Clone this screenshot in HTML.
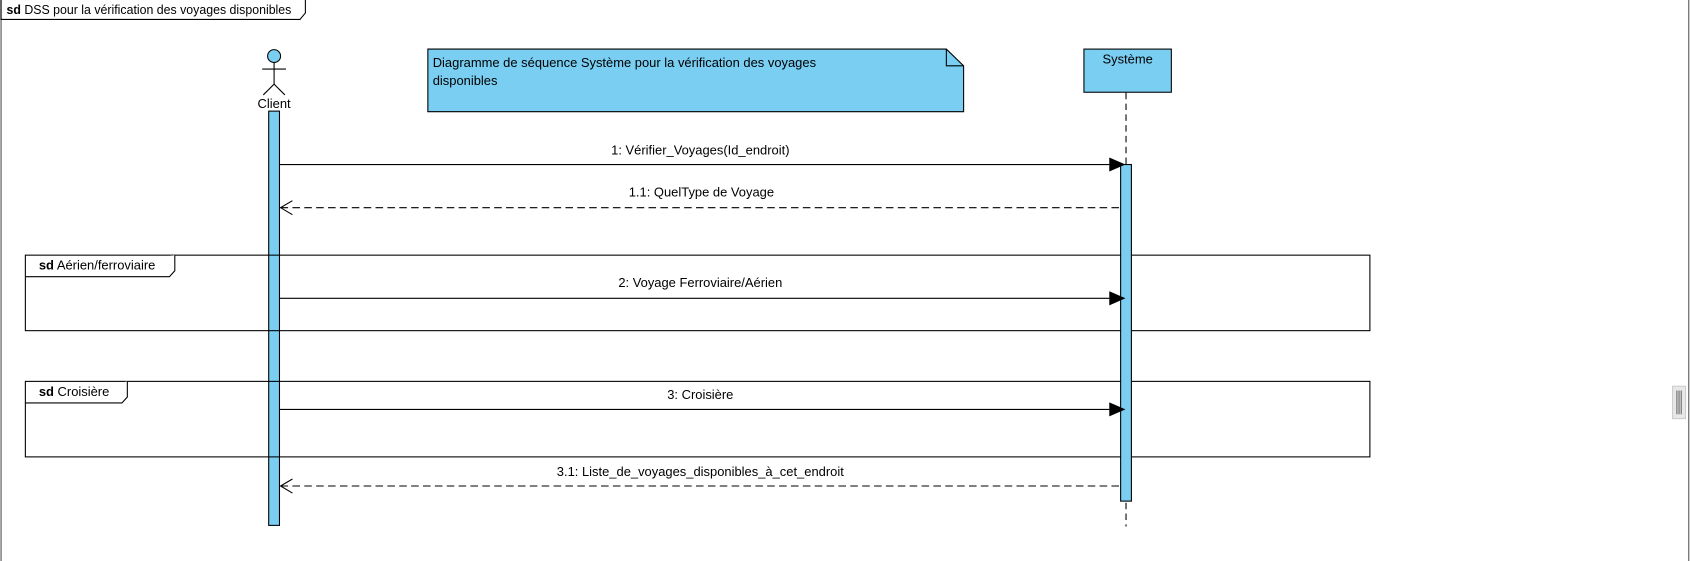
<!DOCTYPE html>
<html><head><meta charset="utf-8"><style>
html,body{margin:0;padding:0;background:#fff;overflow:hidden}
svg{display:block}
text{font-family:"Liberation Sans",sans-serif;font-size:12px;fill:#000}
</style></head><body>
<svg width="1692" height="561" viewBox="0 0 1568 520" preserveAspectRatio="none" xmlns="http://www.w3.org/2000/svg">
<rect x="0" y="0" width="1568" height="520" fill="#fff"/>
<line x1="1" y1="0" x2="1" y2="520" stroke="#888" stroke-width="1.5"/>
<line x1="1565" y1="0" x2="1565" y2="520" stroke="#555" stroke-width="1"/>
<path d="M1,0 V18 H278 L283,12 V0" fill="#fff" stroke="#000" stroke-width="1"/>
<text x="6" y="13" font-size="11" textLength="264" lengthAdjust="spacingAndGlyphs"><tspan font-weight="bold">sd</tspan> DSS pour la vérification des voyages disponibles</text>
<rect x="1550" y="358" width="12" height="30" fill="#e8e8e8" stroke="#ccc"/>
<line x1="1554" y1="362" x2="1554" y2="384" stroke="#666"/>
<line x1="1556" y1="362" x2="1556" y2="384" stroke="#666"/>
<line x1="1558" y1="362" x2="1558" y2="384" stroke="#666"/>
<circle cx="254" cy="52" r="6" fill="#79cef2" stroke="#000"/>
<line x1="254" y1="58" x2="254" y2="78" stroke="#000"/>
<line x1="243" y1="64" x2="265" y2="64" stroke="#000"/>
<line x1="254" y1="78" x2="244" y2="88" stroke="#000"/>
<line x1="254" y1="78" x2="264" y2="88" stroke="#000"/>
<text x="254" y="100" text-anchor="middle">Client</text>
<rect x="249" y="103" width="10" height="384" fill="#79cef2" stroke="#000"/>
<path d="M396.5,45.5 H877 L893,61 V103.5 H396.5 Z" fill="#79cef2" stroke="#000"/>
<path d="M877,45.5 V61 H893" fill="none" stroke="#000"/>
<text x="401" y="62">Diagramme de séquence Système pour la vérification des voyages</text>
<text x="401" y="79">disponibles</text>
<rect x="1004.5" y="45.5" width="81" height="40" fill="#79cef2" stroke="#000"/>
<text x="1045" y="59" text-anchor="middle" font-size="11">Système</text>
<line x1="1043.5" y1="86" x2="1043.5" y2="488" stroke="#000" stroke-dasharray="6,4"/>
<rect x="23.5" y="236.5" width="1246" height="70" fill="none" stroke="#000"/>
<path d="M23.5,256.5 H157 L162,251 V236.5" fill="#fff" stroke="#000"/>
<text x="36" y="250" font-size="11"><tspan font-weight="bold">sd</tspan> Aérien/ferroviaire</text>
<rect x="23.5" y="353.5" width="1246" height="70" fill="none" stroke="#000"/>
<path d="M23.5,373.5 H113 L118,368 V353.5" fill="#fff" stroke="#000"/>
<text x="36" y="367" font-size="11"><tspan font-weight="bold">sd</tspan> Croisière</text>
<rect x="1038.5" y="152.5" width="10" height="312" fill="#79cef2" stroke="#000"/>
<line x1="259" y1="152.5" x2="1028" y2="152.5" stroke="#000"/>
<polygon points="1028,146 1043,152.5 1028,159" fill="#000"/>
<text x="649" y="143" text-anchor="middle">1: Vérifier_Voyages(Id_endroit)</text>
<line x1="260" y1="192.5" x2="1038" y2="192.5" stroke="#000" stroke-dasharray="7,4"/>
<polyline points="271,186 260,192.5 271,199" fill="none" stroke="#000"/>
<text x="650" y="182" text-anchor="middle">1.1: QuelType de Voyage</text>
<line x1="259" y1="276.5" x2="1028" y2="276.5" stroke="#000"/>
<polygon points="1028,270 1043,276.5 1028,283" fill="#000"/>
<text x="649" y="266" text-anchor="middle">2: Voyage Ferroviaire/Aérien</text>
<line x1="259" y1="379.5" x2="1028" y2="379.5" stroke="#000"/>
<polygon points="1028,373 1043,379.5 1028,386" fill="#000"/>
<text x="649" y="370" text-anchor="middle">3: Croisière</text>
<line x1="260" y1="450.5" x2="1038" y2="450.5" stroke="#000" stroke-dasharray="7,4"/>
<polyline points="271,444 260,450.5 271,457" fill="none" stroke="#000"/>
<text x="649" y="441" text-anchor="middle">3.1: Liste_de_voyages_disponibles_à_cet_endroit</text>
</svg>
</body></html>
